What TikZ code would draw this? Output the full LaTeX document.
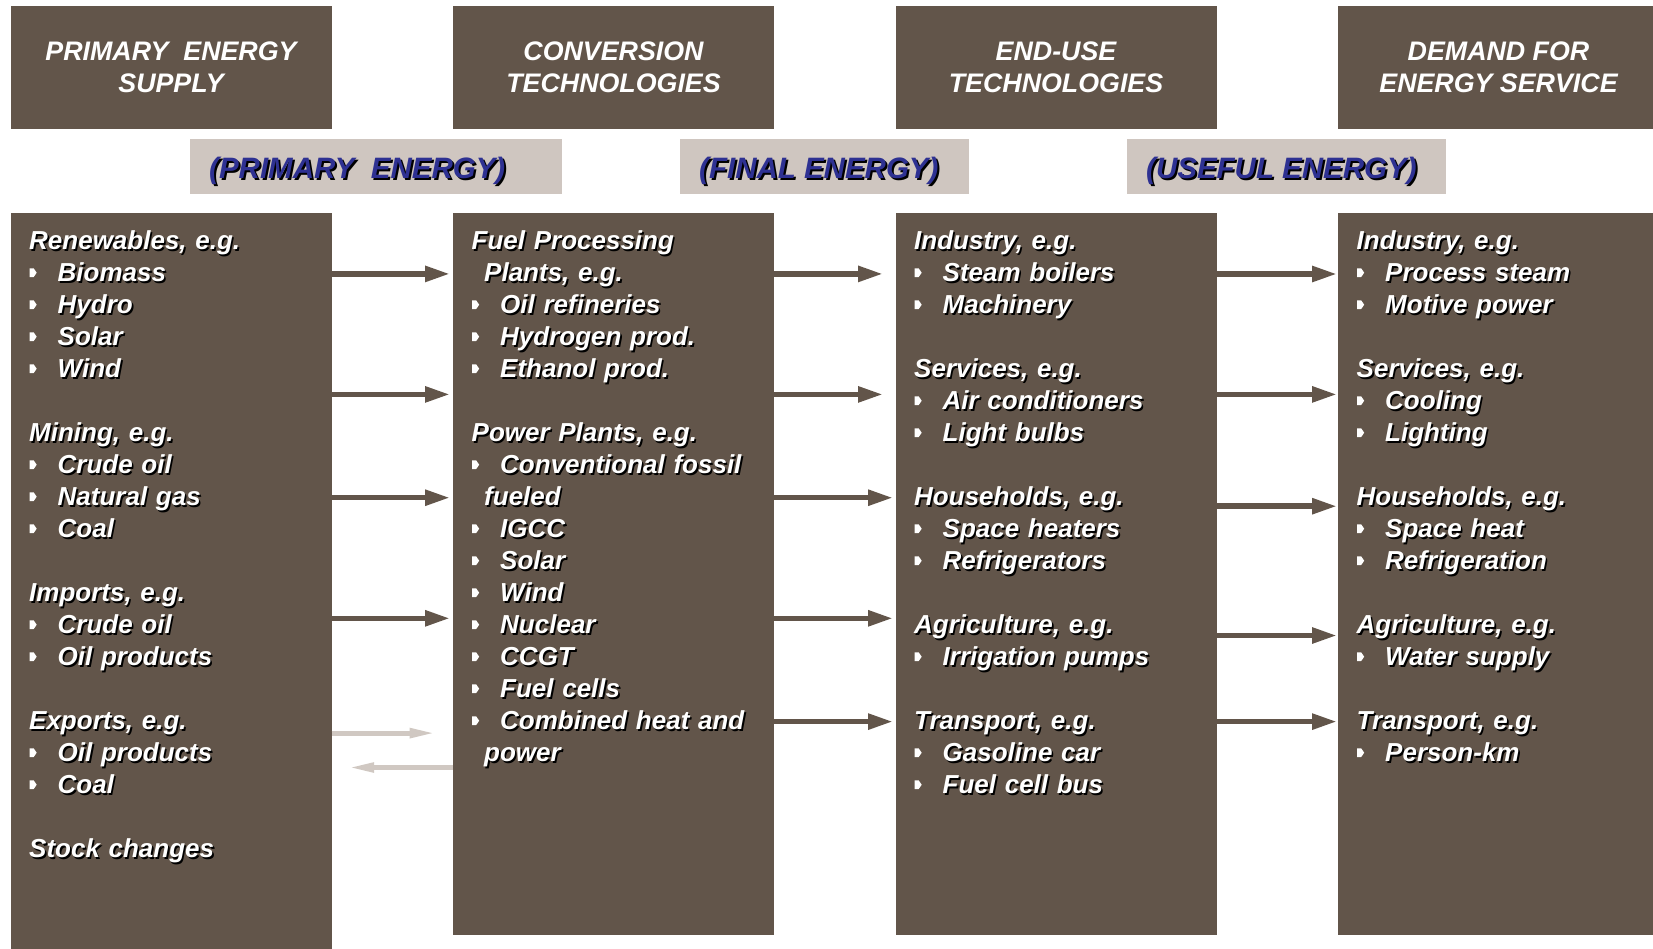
\documentclass[tikz,border=0pt]{standalone}
\usepackage{fontspec}
\setmainfont{Liberation Sans}
\usepackage{tikz}
\usetikzlibrary{arrows.meta}

\definecolor{boxbrown}{RGB}{98,85,74}
\definecolor{labelgray}{RGB}{207,198,192}
\definecolor{labelblue}{RGB}{46,49,146}
\definecolor{paleflow}{RGB}{208,200,194}

\newcommand{\shtxt}[1]{\makebox[0pt][l]{\kern1.6pt\raisebox{-1.6pt}{\color{black}#1}}#1}
\newcommand{\lbltxt}[1]{\makebox[0pt][l]{\kern2pt\raisebox{-2pt}{\color{black}#1}}#1}
\newcommand{\bul}{\tikz[x=1pt,y=1pt,baseline=0pt]\fill[white] (0,4.5) -- (4,4.5) -- (7,8.8) -- (4,13.1) -- (0,13.1) -- cycle;}
\newcommand{\itm}[1]{\makebox[28.5pt][l]{\hspace*{0.5pt}\bul}\shtxt{#1}}

\begin{document}
\begin{tikzpicture}[x=1pt,y=-1pt,
    headbox/.style={fill=boxbrown, text=white, anchor=north west, inner sep=0pt, outer sep=0pt,
        minimum width=321pt, minimum height=122.3pt, align=center,
        font=\bfseries\itshape\fontsize{26.8}{31.6}\selectfont},
    colbox/.style={fill=boxbrown, anchor=north west, inner sep=0pt, outer sep=0pt,
        minimum width=321pt, minimum height=722pt},
    coltext/.style={anchor=base west, inner sep=0pt, text=white, text width=300pt, align=left,
        font=\bfseries\itshape\fontsize{26}{32}\selectfont},
    labelbox/.style={fill=labelgray, anchor=north west, inner sep=0pt, outer sep=0pt, minimum height=54.8pt},
    labeltext/.style={anchor=base west, inner sep=0pt, text=labelblue,
        font=\bfseries\itshape\fontsize{29.5}{34}\selectfont},
    flow/.style={boxbrown, line width=5.5pt, -{Triangle[length=25pt,width=15pt]}},
    backflow/.style={paleflow, line width=5pt, -{Triangle[length=27pt,width=9pt]}}]

    \useasboundingbox (0,0) rectangle (1653,948);

    % headings
    \node[headbox] (supplyhd) at (10.5,6.3) {PRIMARY\ \ ENERGY\\SUPPLY};
    \node[headbox] (convhd) at (453,6.3) {CONVERSION\\TECHNOLOGIES};
    \node[headbox] (endusehd) at (895.5,6.3) {END-USE\\TECHNOLOGIES};
    \node[headbox] (demandhd) at (1338,6.3) {DEMAND FOR\\ENERGY SERVICE};

    % energy forms between the stages
    \node[labelbox, minimum width=372pt] (primary) at (189.8,139.2) {};
    \node[labeltext] (primarytxt) at (209,178.3) {\lbltxt{(PRIMARY\ \ ENERGY)}};
    \node[labelbox, minimum width=289pt] (final) at (680,139.2) {};
    \node[labeltext] (finaltxt) at (699,178.3) {\lbltxt{(FINAL ENERGY)}};
    \node[labelbox, minimum width=319.4pt] (useful) at (1127,139.2) {};
    \node[labeltext] (usefultxt) at (1146,178.3) {\lbltxt{(USEFUL ENERGY)}};

    % columns
    \node[colbox, minimum height=750pt] (supply) at (10.5,213) {};
    \node[colbox] (conv) at (453,213) {};
    \node[colbox] (enduse) at (895.5,213) {};
    \node[colbox] (demand) at (1338,213) {};

    \node[coltext] (supplytxt) at (29,249.5) {\shtxt{Renewables, e.g.}\\ \itm{Biomass}\\ \itm{Hydro}\\
        \itm{Solar}\\ \itm{Wind}\\[32pt] \shtxt{Mining, e.g.}\\ \itm{Crude oil}\\ \itm{Natural gas}\\
        \itm{Coal}\\[32pt] \shtxt{Imports, e.g.}\\ \itm{Crude oil}\\ \itm{Oil products}\\[32pt]
        \shtxt{Exports, e.g.}\\ \itm{Oil products}\\ \itm{Coal}\\[32pt] \shtxt{Stock changes}};
    \node[coltext] (convtxt) at (471.5,249.5) {\shtxt{Fuel Processing}\\ \hspace*{12.5pt}\shtxt{Plants, e.g.}\\
        \itm{Oil refineries}\\ \itm{Hydrogen prod.}\\ \itm{Ethanol prod.}\\[32pt] \shtxt{Power Plants, e.g.}\\
        \itm{Conventional fossil}\\ \hspace*{12.5pt}\shtxt{fueled}\\ \itm{IGCC}\\ \itm{Solar}\\ \itm{Wind}\\
        \itm{Nuclear}\\ \itm{CCGT}\\ \itm{Fuel cells}\\ \itm{Combined heat and}\\ \hspace*{12.5pt}\shtxt{power}};
    \node[coltext] (endusetxt) at (914,249.5) {\shtxt{Industry, e.g.}\\ \itm{Steam boilers}\\ \itm{Machinery}\\[32pt]
        \shtxt{Services, e.g.}\\ \itm{Air conditioners}\\ \itm{Light bulbs}\\[32pt] \shtxt{Households, e.g.}\\
        \itm{Space heaters}\\ \itm{Refrigerators}\\[32pt] \shtxt{Agriculture, e.g.}\\ \itm{Irrigation pumps}\\[32pt]
        \shtxt{Transport, e.g.}\\ \itm{Gasoline car}\\ \itm{Fuel cell bus}};
    \node[coltext] (demandtxt) at (1356.5,249.5) {\shtxt{Industry, e.g.}\\ \itm{Process steam}\\ \itm{Motive power}\\[32pt]
        \shtxt{Services, e.g.}\\ \itm{Cooling}\\ \itm{Lighting}\\[32pt] \shtxt{Households, e.g.}\\
        \itm{Space heat}\\ \itm{Refrigeration}\\[32pt] \shtxt{Agriculture, e.g.}\\ \itm{Water supply}\\[32pt]
        \shtxt{Transport, e.g.}\\ \itm{Person-km}};

    % flows
    \foreach \y in {273.9,394.4,497.7,618.3}
        \draw[flow, shorten >=3pt] (supply.east |- 0,\y) -- (conv.west |- 0,\y);
    \draw[backflow, shorten >=16.3pt] (supply.east |- 0,733.1) -- (conv.west |- 0,733.1);
    \draw[backflow, shorten >=15.7pt] (conv.west |- 0,767.5) -- (supply.east |- 0,767.5);

    \foreach \y in {273.9,394.4}
        \draw[flow, shorten >=12.5pt] (conv.east |- 0,\y) -- (enduse.west |- 0,\y);
    \foreach \y in {497.7,618.3,721.6}
        \draw[flow, shorten >=2.5pt] (conv.east |- 0,\y) -- (enduse.west |- 0,\y);

    \foreach \y in {274,394.4,506.2,635.5,721.6}
        \draw[flow, shorten >=1pt] (enduse.east |- 0,\y) -- (demand.west |- 0,\y);

\end{tikzpicture}
\end{document}
